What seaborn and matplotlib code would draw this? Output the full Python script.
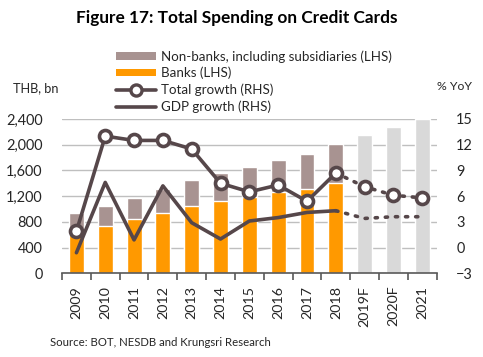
import matplotlib
matplotlib.use("Agg")
import matplotlib.pyplot as plt
import seaborn as sns
import pandas as pd
import numpy as np
from matplotlib.patches import Patch
from matplotlib.lines import Line2D

years = ["2009", "2010", "2011", "2012", "2013", "2014", "2015", "2016", "2017", "2018", "2019F", "2020F", "2021"]
total_spending = [940, 1050, 1170, 1310, 1450, 1560, 1660, 1760, 1860, 2010, 2150, 2280, 2400]
banks = [630, 740, 840, 940, 1050, 1120, 1190, 1270, 1310, 1410, None, None, None]
total_growth = [1.9, 13.0, 12.5, 12.5, 11.5, 7.5, 6.5, 7.3, 5.4, 8.7, 7.1, 6.1, 5.8]
gdp_growth = [-0.6, 7.6, 0.9, 7.2, 2.9, 1.0, 3.1, 3.5, 4.1, 4.3, 3.4, 3.6, 3.6]
n_actual = 10

sns.set_theme(style="white")
plt.rcParams['font.family'] = ['Lato', 'DejaVu Sans']

C_NB = "#A89391"
C_BANK = "#FF9900"
C_FC = "#D9D9D9"
C_LINE = "#56474A"
C_TXT = "#262626"

W, H = 483, 357
fig = plt.figure(figsize=(W/100, H/100), dpi=100)
renderer = fig.canvas.get_renderer()


def fit_size(text, target_px, weight="normal", rotation=0):
    t = fig.text(0, 0, text, fontsize=10, fontweight=weight)
    w = t.get_window_extent(renderer=renderer).width
    t.remove()
    return 10 * target_px / w


ax = fig.add_axes([62/W, 1-273.3/H, (436.7-62)/W, (273.3-119)/H])

df = pd.DataFrame({"year": years, "total": total_spending,
                   "banks": [b if b is not None else np.nan for b in banks]})
bar_colors = [C_NB]*n_actual + [C_FC]*(len(years)-n_actual)
sns.barplot(data=df, x="year", y="total", hue="year", palette=bar_colors,
            legend=False, width=0.52, ax=ax, saturation=1)
sns.barplot(data=df, x="year", y="banks", color=C_BANK, width=0.52, ax=ax, saturation=1)

tick_fs = fit_size("2,400", 37)
xtick_fs = fit_size("2009", 33)

ax.set_ylim(0, 2400)
ax.set_xlim(-0.5, len(years)-0.5)
ax.set_yticks(range(0, 2401, 400))
ax.set_yticklabels([f"{v:,}" for v in range(0, 2401, 400)])
ax.yaxis.grid(True, color="#BFBFBF", linewidth=1)
ax.set_axisbelow(True)
for s in ["left", "right", "top"]:
    ax.spines[s].set_visible(False)
ax.spines["bottom"].set_color("#595959")
ax.spines["bottom"].set_linewidth(1.2)
ax.set_xlabel("")
ax.set_ylabel("")
ax.set_xticks(range(len(years)))
ax.set_xticklabels(years, rotation=90)
ax.set_xticks(np.arange(-0.5, len(years), 1.0), minor=True)
ax.tick_params(axis="x", which="major", length=0, pad=9, labelsize=xtick_fs, colors=C_TXT)
ax.tick_params(axis="x", which="minor", length=5, width=1.2, color="#595959", bottom=True, direction="out")
ax.tick_params(axis="y", length=0, pad=14, labelsize=tick_fs, colors=C_TXT)

ax2 = ax.twinx()
ax2.set_ylim(-3, 15)
ax2.set_yticks(range(-3, 16, 3))
for s in ["left", "right", "top", "bottom"]:
    ax2.spines[s].set_visible(False)
ax2.tick_params(axis="y", length=0, pad=14, labelsize=tick_fs, colors=C_TXT)
ax2.grid(False)

xpos = list(range(len(years)))
act = pd.DataFrame({"x": xpos[:n_actual], "tg": total_growth[:n_actual], "gdp": gdp_growth[:n_actual]})
fc = pd.DataFrame({"x": xpos[n_actual-1:], "tg": total_growth[n_actual-1:], "gdp": gdp_growth[n_actual-1:]})

sns.lineplot(data=act, x="x", y="gdp", color=C_LINE, linewidth=2.6, ax=ax2)
sns.lineplot(data=fc, x="x", y="gdp", color=C_LINE, linewidth=2.6, ax=ax2,
             linestyle=(0, (0.6, 2.2)), dash_capstyle="round")
sns.lineplot(data=fc, x="x", y="tg", color=C_LINE, linewidth=2.6, ax=ax2,
             linestyle=(0, (0.6, 2.2)), dash_capstyle="round")
sns.lineplot(data=act, x="x", y="tg", color=C_LINE, linewidth=2.6, ax=ax2)
mk = pd.DataFrame({"x": xpos, "tg": total_growth})
sns.scatterplot(data=mk, x="x", y="tg", ax=ax2, s=75, color="white",
                edgecolor=C_LINE, linewidth=2.6, zorder=5)
ax2.set_xlabel("")
ax2.set_ylabel("")
ax2.set_xlim(-0.5, len(years)-0.5)

labels = ["Non-banks, including subsidiaries (LHS)", "Banks (LHS)",
          "Total growth (RHS)", "GDP growth (RHS)"]
leg_fs = fit_size(labels[0], 230)
hl_em = 40 / (leg_fs * 100 / 72)
handles = [Patch(facecolor=C_NB, edgecolor="none"),
           Patch(facecolor=C_BANK, edgecolor="none"),
           Line2D([], [], color=C_LINE, linewidth=2.6, marker="o", markersize=8,
                  markerfacecolor="white", markeredgecolor=C_LINE, markeredgewidth=2.4),
           Line2D([], [], color=C_LINE, linewidth=2.6)]
row_px = 17.5
fs_px = leg_fs * 100 / 72
leg = fig.legend(handles, labels, loc="center left", bbox_to_anchor=(116/W, 1-81.5/H),
                 frameon=False, fontsize=leg_fs, handlelength=hl_em, handleheight=0.5,
                 handletextpad=5/fs_px, labelspacing=(row_px - fs_px)/fs_px,
                 borderpad=0, borderaxespad=0)
for t in leg.get_texts():
    t.set_color(C_TXT)

fig.text(237/W, 1-18/H, "Figure 17: Total Spending on Credit Cards", ha="center", va="center",
         fontsize=fit_size("Figure 17: Total Spending on Credit Cards", 320, weight="bold"),
         fontweight="bold", color="black")
fig.text(13/W, 1-88/H, "THB, bn", ha="left", va="center", fontsize=fit_size("THB, bn", 46), color=C_TXT)
fig.text(437/W, 1-87/H, "% YoY", ha="left", va="center", fontsize=fit_size("% YoY", 35), color=C_TXT)
src = "Source: BOT, NESDB and Krungsri Research"
fig.text(50/W, 1-342/H, src, ha="left", va="center", fontsize=fit_size(src, 222), color=C_TXT)

fig.savefig("out.png", dpi=100)
